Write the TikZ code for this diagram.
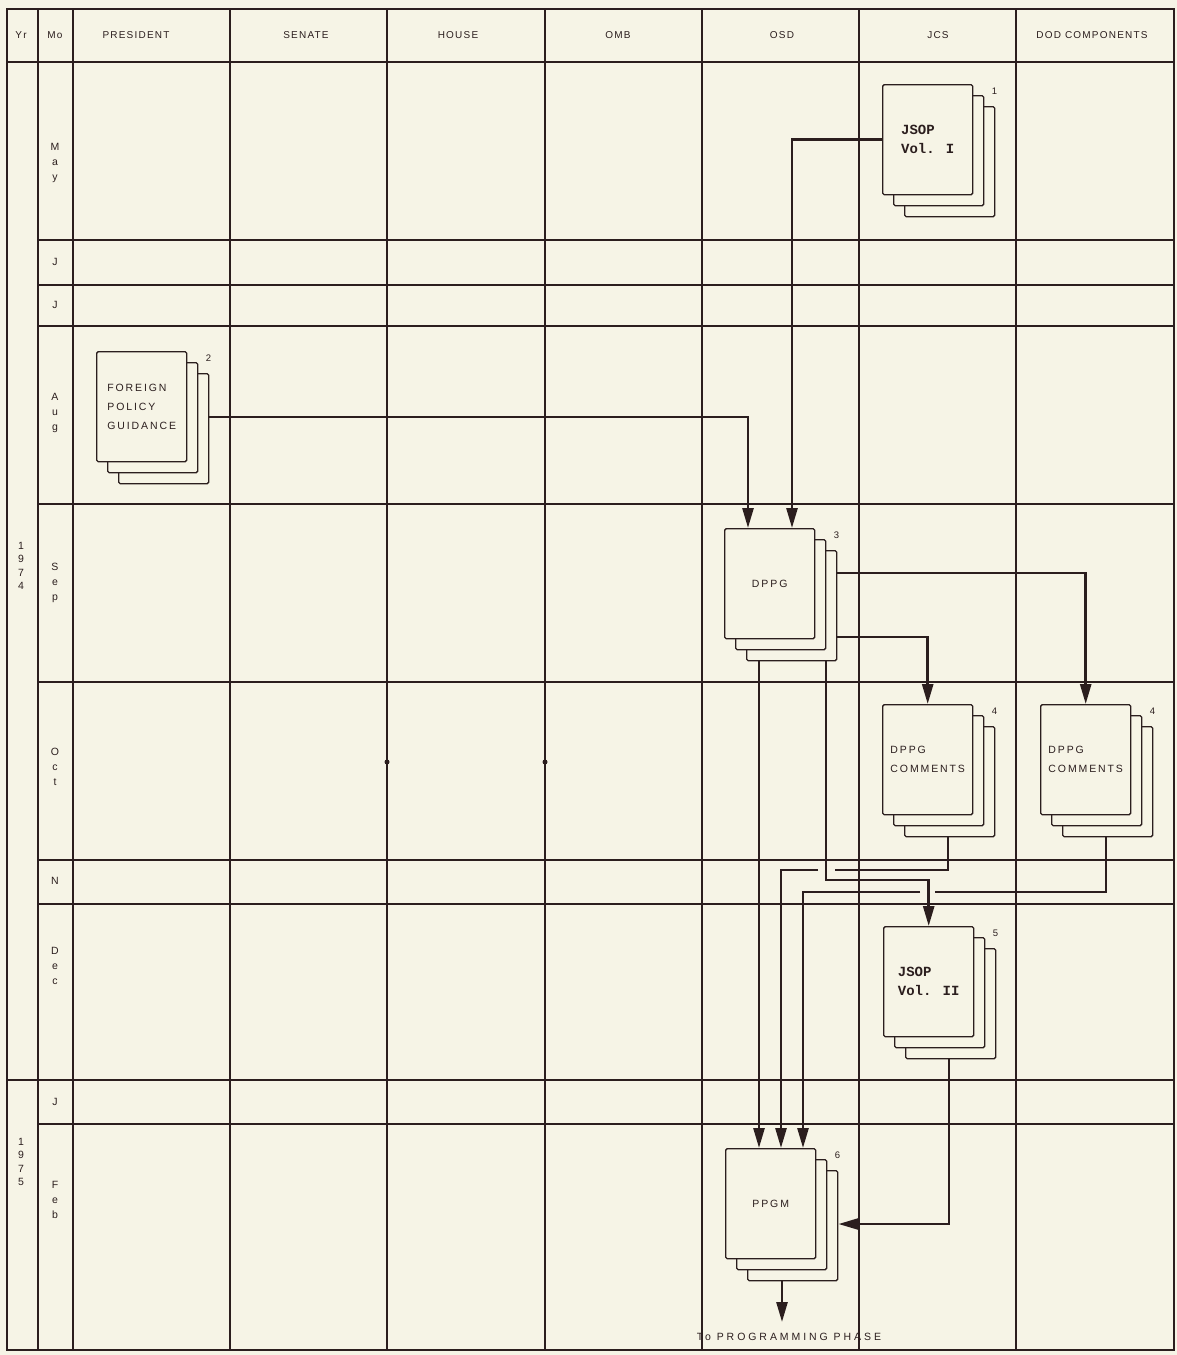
\documentclass[tikz,border=0pt]{standalone}
\usepackage{fontspec}
\setmainfont{Liberation Sans}[LetterSpace=12]
\newfontfamily\typew{Liberation Mono}
\newfontfamily\widesans{Liberation Sans}[LetterSpace=18]
\newfontfamily\widersans{Liberation Sans}[LetterSpace=28]
\usetikzlibrary{arrows.meta}
\definecolor{ink}{HTML}{2B1E1E}
\definecolor{paper}{HTML}{F6F4E6}
\tikzset{
  grid/.style={draw=ink, line width=1.3pt},
  conn/.style={draw=ink, line width=2.6pt},
  arr/.style={conn, -{Triangle[length=20pt,width=11pt]}},
  page/.style={draw=ink, line width=1.4pt, fill=paper, minimum width=90pt, minimum height=110pt, inner sep=0pt, rounded corners=1.5pt},
  hdr/.style={text=ink, font=\fontsize{10}{12}\selectfont, inner sep=0pt},
  mo/.style={text=ink, font=\fontsize{10.5}{15}\selectfont, align=center, inner sep=0pt},
  yr/.style={text=ink, font=\fontsize{10.5}{13.5}\selectfont, align=center, inner sep=0pt},
  numlbl/.style={text=ink, font=\fontsize{9.5}{10}\selectfont, inner sep=0pt},
  doctxt/.style={text=ink, font=\widesans\fontsize{10.5}{19}\selectfont},
  monotxt/.style={text=ink, font=\typew\bfseries\fontsize{14}{19}\selectfont},
  progtxt/.style={text=ink, font=\widersans\fontsize{10.5}{12}\selectfont, inner sep=0pt},
}
\newcommand\docstack[6]{%
  \node[page, anchor=north west] (#1c) at (#2+22,#3+22) {};
  \node[page, anchor=north west] (#1b) at (#2+11,#3+11) {};
  \node[page, anchor=north west, align=left, #6] (#1) at (#2,#3) {#5};
  \node[numlbl] (#1n) at ([xshift=21pt,yshift=-7pt]#1.north east) {#4};
}
\begin{document}
\begin{tikzpicture}[x=1pt,y=-1pt]
\fill[paper] (0,0) rectangle (1177,1355);
\useasboundingbox (0,0) rectangle (1177,1355);
% grid
\draw[grid] (7,9) rectangle (1174,1350);
\foreach \x in {38,73,230,387,545,702,859,1016}
  \draw[grid] (\x,9) -- (\x,1350);
\draw[grid, line width=2.2pt] (7,62) -- (1174,62);
\foreach \y in {240,285,326,504,682,860,904,1124}
  \draw[grid] (38,\y) -- (1174,\y);
\draw[grid] (7,1080) -- (1174,1080);
% faint thick marks
\draw[conn, line width=2pt] (308,682) -- (545,682);
\draw[conn, line width=2pt] (387,682) -- (387,762);
\draw[conn, line width=2pt] (545,682) -- (545,762);
\fill[ink] (387,762) circle (2.5pt);
\fill[ink] (545,762) circle (2.5pt);
% headers
\node[hdr] (hyr) at (21,35) {Yr};
\node[hdr] (hmo) at (55,35) {Mo};
\node[hdr] (hpres) at (136,35) {PRESIDENT};
\node[hdr] (hsen) at (306,35) {SENATE};
\node[hdr] (hhou) at (458,35) {HOUSE};
\node[hdr] (homb) at (618,35) {OMB};
\node[hdr] (hosd) at (782,35) {OSD};
\node[hdr] (hjcs) at (938,35) {JCS};
\node[hdr] (hdod) at (1092,35) {DOD COMPONENTS};
% months
\node[mo] (m1) at (55,163) {M\\a\\y};
\node[mo] (m2) at (55,262) {J};
\node[mo] (m3) at (55,305) {J};
\node[mo] (m4) at (55,413) {A\\u\\g};
\node[mo] (m5) at (55,583) {S\\e\\p};
\node[mo] (m6) at (55,767) {O\\c\\t};
\node[mo] (m7) at (55,881) {N};
\node[mo] (m8) at (55,966) {D\\e\\c};
\node[mo] (m9) at (55,1102) {J};
\node[mo] (m10) at (55,1200) {F\\e\\b};
\node[yr] (y1) at (21,566) {1\\9\\7\\4};
\node[yr] (y2) at (21,1162) {1\\9\\7\\5};
% documents
\docstack{jsopa}{882}{84}{1}{JSOP\\Vol. I}{monotxt}
\docstack{fpg}{96}{351}{2}{FOREIGN\\POLICY\\GUIDANCE}{doctxt}
\docstack{dppg}{724}{528}{3}{DPPG}{doctxt}
\docstack{coma}{882}{704}{4}{DPPG\\COMMENTS}{doctxt}
\docstack{comb}{1040}{704}{4}{DPPG\\COMMENTS}{doctxt}
\docstack{jsopb}{883}{926}{5}{JSOP\\Vol. II}{monotxt}
\docstack{ppgm}{725}{1148}{6}{PPGM}{doctxt}
\node[progtxt] (prog) at (789,1337) {To PROGRAMMING PHASE};
\coordinate (progtip) at (782,1322);
% connectors
\draw[arr] (jsopa.west) -| (792,0 |- dppg.north);
\draw[arr] (fpgc.east |- 0,417) -| (748,0 |- dppg.north);
\draw[arr] (dppgc.east |- 0,573) -| (comb.north);
\draw[arr] (dppgc.east |- 0,637) -| (coma.north);
\draw[arr] (759,0 |- dppgc.south) -- (759,0 |- ppgm.north);
\draw[arr] (826,0 |- dppgc.south) |- (jsopb.north |- 0,880) -- (jsopb.north);
\draw[arr] (948,0 |- comac.south) |- (835,870) (818,870) -| (781,0 |- ppgm.north);
\draw[arr] (1106,0 |- combc.south) |- (935,892) (920,892) -| (803,0 |- ppgm.north);
\draw[arr] (949,0 |- jsopbc.south) |- (ppgmc.east |- 0,1224);
\draw[arr] (782,0 |- ppgmc.south) -- (progtip);
\end{tikzpicture}
\end{document}
